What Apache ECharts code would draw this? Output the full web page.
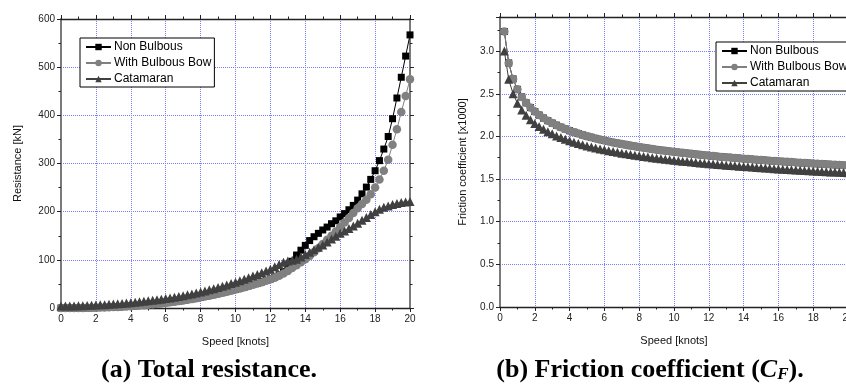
<!DOCTYPE html>
<html>
<head>
<meta charset="utf-8">
<script src="https://cdn.jsdelivr.net/npm/echarts@6/dist/echarts.min.js"></script>
<style>
html,body{margin:0;padding:0;background:#fff;overflow:hidden;}
#c{width:870px;height:385px;}
</style>
</head>
<body>
<div id="c"></div>
<script>
// ---------- DATA ----------
var seriesNames = ['Non Bulbous', 'With Bulbous Bow', 'Catamaran'];

// (a) Total resistance [kN] vs speed [knots]
var speedA = [
  0, 0.25, 0.5, 0.75,
  1, 1.25, 1.5, 1.75,
  2, 2.25, 2.5, 2.75,
  3, 3.25, 3.5, 3.75,
  4, 4.25, 4.5, 4.75,
  5, 5.25, 5.5, 5.75,
  6, 6.25, 6.5, 6.75,
  7, 7.25, 7.5, 7.75,
  8, 8.25, 8.5, 8.75,
  9, 9.25, 9.5, 9.75,
  10, 10.25, 10.5, 10.75,
  11, 11.25, 11.5, 11.75,
  12, 12.25, 12.5, 12.75,
  13, 13.25, 13.5, 13.75,
  14, 14.25, 14.5, 14.75,
  15, 15.25, 15.5, 15.75,
  16, 16.25, 16.5, 16.75,
  17, 17.25, 17.5, 17.75,
  18, 18.25, 18.5, 18.75,
  19, 19.25, 19.5, 19.75,
  20
];
var resNonBulbous = [
  0, 0.0, 0.0, 0.1,
  0.1, 0.2, 0.3, 0.5,
  0.7, 0.9, 1.2, 1.5,
  1.9, 2.3, 2.8, 3.3,
  3.9, 4.5, 5.2, 6.0,
  6.8, 7.7, 8.7, 9.7,
  10.8, 12.0, 13.2, 14.5,
  15.9, 17.4, 18.9, 20.5,
  22.2, 24.0, 25.8, 27.7,
  29.7, 31.8, 34.0, 36.2,
  38.5, 40.9, 43.4, 46.0,
  48.6, 51.3, 54.1, 57.0,
  60.2, 64.0, 69.0, 76.0,
  85.0, 97.0, 110.0, 120.0,
  130, 140, 148, 155,
  162, 168, 175, 181,
  189, 196, 204, 213,
  224, 237, 251, 267,
  285, 306, 330, 356,
  393, 436, 479, 523,
  567
];
var resBulbous = [
  0, 0.0, 0.0, 0.1,
  0.1, 0.2, 0.3, 0.5,
  0.7, 0.9, 1.2, 1.5,
  1.9, 2.3, 2.7, 3.3,
  3.8, 4.5, 5.2, 5.9,
  6.8, 7.7, 8.6, 9.6,
  10.7, 11.9, 13.1, 14.4,
  15.8, 17.2, 18.8, 20.4,
  22.1, 23.8, 25.6, 27.5,
  29.5, 31.6, 33.7, 35.9,
  38.2, 40.6, 43.1, 45.6,
  48.2, 50.9, 53.7, 56.6,
  59.6, 63.0, 67.0, 71.5,
  77.0, 83.0, 89.0, 95.0,
  101, 108, 116, 124,
  133, 141.5, 150, 159,
  168, 177.5, 187, 197,
  207, 216, 225, 236,
  250, 267, 285, 308,
  339, 371, 407, 440,
  475
];
var resCatamaran = [
  4.0, 4.1, 4.2, 4.4,
  4.6, 4.9, 5.2, 5.6,
  6.0, 6.5, 7.0, 7.6,
  8.2, 8.8, 9.5, 10.3,
  11.1, 11.9, 12.8, 13.8,
  14.8, 15.9, 17.0, 18.2,
  19.5, 20.8, 22.2, 23.8,
  25.5, 27.3, 29.2, 31.2,
  33.3, 35.5, 37.8, 40.2,
  42.7, 45.3, 48.0, 50.8,
  53.7, 56.7, 59.8, 63.0,
  66.3, 69.7, 73.2, 76.8,
  80.5, 85.5, 90.5, 95.0,
  97.5, 99.0, 101.0, 106.0,
  111, 116, 121, 126,
  131, 137, 143, 149,
  155, 160, 165, 170,
  176, 182, 188, 194,
  200, 205, 209, 212,
  215, 217, 219, 220,
  221
];

// (b) Friction coefficient [x1000] vs speed [knots]
var speedB = [
  0.25, 0.5, 0.75, 1,
  1.25, 1.5, 1.75, 2,
  2.25, 2.5, 2.75, 3,
  3.25, 3.5, 3.75, 4,
  4.25, 4.5, 4.75, 5,
  5.25, 5.5, 5.75, 6,
  6.25, 6.5, 6.75, 7,
  7.25, 7.5, 7.75, 8,
  8.25, 8.5, 8.75, 9,
  9.25, 9.5, 9.75, 10,
  10.25, 10.5, 10.75, 11,
  11.25, 11.5, 11.75, 12,
  12.25, 12.5, 12.75, 13,
  13.25, 13.5, 13.75, 14,
  14.25, 14.5, 14.75, 15,
  15.25, 15.5, 15.75, 16,
  16.25, 16.5, 16.75, 17,
  17.25, 17.5, 17.75, 18,
  18.25, 18.5, 18.75, 19,
  19.25, 19.5, 19.75, 20
];
var cfNonBulbous = [
  3.230, 2.861, 2.674, 2.552,
  2.463, 2.394, 2.338, 2.291,
  2.250, 2.215, 2.184, 2.156,
  2.131, 2.108, 2.087, 2.067,
  2.050, 2.033, 2.017, 2.002,
  1.989, 1.976, 1.963, 1.952,
  1.940, 1.930, 1.920, 1.910,
  1.901, 1.892, 1.884, 1.875,
  1.868, 1.860, 1.852, 1.845,
  1.838, 1.832, 1.825, 1.819,
  1.813, 1.807, 1.802, 1.796,
  1.791, 1.785, 1.780, 1.775,
  1.770, 1.765, 1.760, 1.756,
  1.752, 1.748, 1.743, 1.739,
  1.735, 1.731, 1.727, 1.723,
  1.720, 1.716, 1.712, 1.709,
  1.705, 1.702, 1.699, 1.695,
  1.692, 1.689, 1.686, 1.683,
  1.680, 1.677, 1.674, 1.671,
  1.668, 1.665, 1.662, 1.660
];
var cfBulbous = [
  3.230, 2.861, 2.674, 2.552,
  2.463, 2.394, 2.338, 2.291,
  2.250, 2.215, 2.184, 2.156,
  2.131, 2.108, 2.087, 2.067,
  2.050, 2.033, 2.017, 2.002,
  1.989, 1.976, 1.963, 1.952,
  1.940, 1.930, 1.920, 1.910,
  1.901, 1.892, 1.884, 1.875,
  1.868, 1.860, 1.852, 1.845,
  1.838, 1.832, 1.825, 1.819,
  1.813, 1.807, 1.802, 1.796,
  1.791, 1.785, 1.780, 1.775,
  1.770, 1.765, 1.760, 1.756,
  1.752, 1.748, 1.743, 1.739,
  1.735, 1.731, 1.727, 1.723,
  1.720, 1.716, 1.712, 1.709,
  1.705, 1.702, 1.699, 1.695,
  1.692, 1.689, 1.686, 1.683,
  1.680, 1.677, 1.674, 1.671,
  1.668, 1.665, 1.662, 1.660
];
var cfCatamaran = [
  3.000, 2.669, 2.500, 2.390,
  2.309, 2.247, 2.195, 2.152,
  2.116, 2.083, 2.055, 2.030,
  2.006, 1.986, 1.966, 1.949,
  1.932, 1.917, 1.902, 1.889,
  1.876, 1.865, 1.853, 1.843,
  1.832, 1.823, 1.813, 1.804,
  1.796, 1.788, 1.780, 1.772,
  1.765, 1.758, 1.751, 1.745,
  1.739, 1.732, 1.726, 1.721,
  1.715, 1.710, 1.705, 1.700,
  1.694, 1.689, 1.685, 1.680,
  1.676, 1.671, 1.667, 1.663,
  1.659, 1.655, 1.651, 1.647,
  1.643, 1.640, 1.636, 1.633,
  1.629, 1.626, 1.622, 1.619,
  1.616, 1.613, 1.610, 1.607,
  1.604, 1.601, 1.598, 1.595,
  1.592, 1.590, 1.587, 1.584,
  1.582, 1.579, 1.576, 1.574
];

var xTicksA = { min: 0, max: 20, interval: 2 };
var yTicksA = { min: 0, max: 600, interval: 100 };
var xTicksB = { min: 0, max: 20, interval: 2 };
var yTicksB = { min: 0, max: 3.4, interval: 0.5 };

var xNameA = 'Speed [knots]';
var yNameA = 'Resistance [kN]';
var xNameB = 'Speed [knots]';
var yNameB = 'Friction coefficient [x1000]';

// ---------- CHART ----------
var FONT = '"Liberation Sans", Arial, sans-serif';
var SERIF = '"Liberation Serif", "Times New Roman", serif';
var GRID_COLOR = '#7b7bff';

function zip(xs, ys) { return xs.map(function (x, i) { return [x, ys[i]]; }); }

function xAx(gi, t, pos, main, name) {
  return {
    gridIndex: gi, type: 'value', position: pos, min: t.min, max: t.max, interval: t.interval,
    name: main ? name : '', nameLocation: 'middle', nameGap: 28,
    nameTextStyle: { fontFamily: FONT, fontSize: 11, color: '#111' },
    axisLine: { show: true, onZero: false, lineStyle: { color: '#222', width: 1.3 } },
    axisTick: { show: true, inside: false, length: 4, lineStyle: { color: '#222', width: 1 } },
    minorTick: { show: true, splitNumber: 2, length: 2.5, lineStyle: { color: '#222', width: 1 } },
    axisLabel: { show: main, fontFamily: FONT, fontSize: 10, color: '#222', margin: 6 },
    splitLine: { show: main, lineStyle: { type: [1, 1], color: GRID_COLOR, width: 1 } }
  };
}
function yAx(gi, t, pos, main, name, fmt) {
  return {
    gridIndex: gi, type: 'value', position: pos, min: t.min, max: t.max, interval: t.interval,
    name: main ? name : '', nameLocation: 'middle', nameGap: main ? (gi === 0 ? 38 : 32) : 0,
    nameTextStyle: { fontFamily: FONT, fontSize: 11, color: '#111' },
    axisLine: { show: true, onZero: false, lineStyle: { color: '#7a7a7a', width: 2 } },
    axisTick: { show: true, inside: false, length: 4, lineStyle: { color: '#222', width: 1 } },
    minorTick: { show: true, splitNumber: 2, length: 2.5, lineStyle: { color: '#222', width: 1 } },
    axisLabel: { show: main, fontFamily: FONT, fontSize: 10, color: '#222', margin: 6, formatter: fmt,
      showMaxLabel: gi === 0 },
    splitLine: { show: main, lineStyle: { type: [1, 1], color: GRID_COLOR, width: 1 } }
  };
}

var styles = [
  { color: '#000000', symbol: 'rect', size: 7 },
  { color: '#808080', symbol: 'circle', size: 8.5 },
  { color: '#404040', symbol: 'triangle', size: 9 }
];

function mkSeries(name, xi, yi, data, st) {
  return {
    name: name, type: 'line', xAxisIndex: xi, yAxisIndex: yi, data: data,
    symbol: st.symbol, symbolSize: st.size, showAllSymbol: true,
    itemStyle: { color: st.color, borderWidth: 0 },
    lineStyle: { color: st.color, width: 1 },
    emphasis: { disabled: true }, animation: false, z: 3
  };
}

function legend(left, top) {
  return {
    data: seriesNames, orient: 'vertical', left: left, top: top,
    borderColor: '#000', borderWidth: 1, padding: [3, 3, 2, 5], itemGap: 4,
    itemWidth: 25, itemHeight: 8, selectedMode: false, backgroundColor: '#fff',
    textStyle: { fontFamily: FONT, fontSize: 12, color: '#000', padding: [0, 0, 0, -2] }
  };
}

var chart = echarts.init(document.getElementById('c'), null, { renderer: 'canvas' });
chart.setOption({
  animation: false,
  backgroundColor: '#fff',
  grid: [
    { left: 61, top: 19, width: 349, height: 289 },
    { left: 500, top: 17, width: 348, height: 290 }
  ],
  xAxis: [
    xAx(0, xTicksA, 'bottom', true, xNameA),
    xAx(0, xTicksA, 'top', false, ''),
    xAx(1, xTicksB, 'bottom', true, xNameB),
    xAx(1, xTicksB, 'top', false, '')
  ],
  yAxis: [
    yAx(0, yTicksA, 'left', true, yNameA, function (v) { return String(v); }),
    yAx(0, yTicksA, 'right', false, '', null),
    yAx(1, yTicksB, 'left', true, yNameB, function (v) { return v.toFixed(1); }),
    yAx(1, yTicksB, 'right', false, '', null)
  ],
  legend: [legend(80, 38), legend(716, 42)],
  series: [
    mkSeries(seriesNames[0], 0, 0, zip(speedA, resNonBulbous), styles[0]),
    mkSeries(seriesNames[1], 0, 0, zip(speedA, resBulbous), styles[1]),
    mkSeries(seriesNames[2], 0, 0, zip(speedA, resCatamaran), styles[2]),
    mkSeries(seriesNames[0], 2, 2, zip(speedB, cfNonBulbous), styles[0]),
    mkSeries(seriesNames[1], 2, 2, zip(speedB, cfBulbous), styles[1]),
    mkSeries(seriesNames[2], 2, 2, zip(speedB, cfCatamaran), styles[2])
  ],
  graphic: [
    {
      type: 'text', x: 209, y: 370,
      style: { text: '(a) Total resistance.', font: 'bold 26px ' + SERIF, fill: '#000', textAlign: 'center', textVerticalAlign: 'middle' }
    },
    {
      type: 'text', x: 650, y: 370,
      style: {
        text: '(b) Friction coefficient ({i|C}{s|F}).',
        font: 'bold 26px ' + SERIF, fill: '#000', textAlign: 'center', textVerticalAlign: 'middle',
        rich: {
          i: { fontFamily: SERIF, fontWeight: 'bold', fontStyle: 'italic', fontSize: 26 },
          s: { fontFamily: SERIF, fontWeight: 'bold', fontStyle: 'italic', fontSize: 17, padding: [9, 0, 0, 0] }
        }
      }
    }
  ]
});
</script>
</body>
</html>
